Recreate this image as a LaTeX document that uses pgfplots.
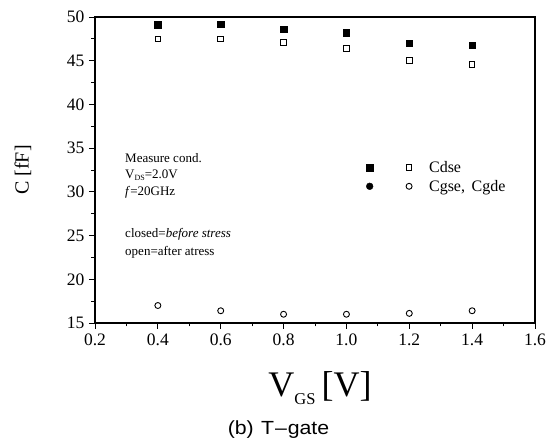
\documentclass[border=0pt]{standalone}
\usepackage{pgfplots}
\pgfplotsset{compat=1.18}
\usepackage{graphicx}
\usepackage{fontspec}
\setmainfont{Liberation Serif}
\newfontfamily\capfont{Liberation Sans}
\usetikzlibrary{calc}
\begin{document}
\begin{tikzpicture}
\begin{axis}[
  name=ax,
  scale only axis,
  width=440pt, height=306pt,
  xmin=0.2, xmax=1.6, ymin=15, ymax=50,
  xtick={0.2,0.4,0.6,0.8,1.0,1.2,1.4,1.6},
  xticklabels={0.2,0.4,0.6,0.8,1.0,1.2,1.4,1.6},
  ytick={15,20,25,30,35,40,45,50},
  minor x tick num=1, minor y tick num=1,
  xtick pos=bottom, ytick pos=left,
  tick align=outside,
  major tick length=6pt, minor tick length=3.5pt,
  axis line style={line width=1.1pt},
  every tick/.style={line width=0.9pt, black},
  /pgf/number format/assume math mode=true,
  tick label style={font=\fontsize{17.5}{17.5}\selectfont},
  xticklabel style={yshift=-1pt},
  yticklabel style={xshift=-1pt},
  legend columns=2,
  legend cell align=left,
  legend style={draw=none, fill=none, at={(axis cs:1.053,31.7)}, anchor=west,
    font=\fontsize{16}{18}\selectfont, row sep=2pt,
    /tikz/every odd column/.append style={column sep=15pt},
    /tikz/every even column/.append style={column sep=14pt}},
  legend image code/.code={\draw[#1] plot coordinates {(0pt,0pt)};},
  legend entries={{\hspace{0pt}},Cdse,{\hspace{0pt}},{Cgse,\, Cgde}},
]
\addplot[only marks, mark=square*, mark size=3.2pt, black] coordinates {
(0.4,49.1) (0.6,49.2) (0.8,48.6) (1.0,48.2) (1.2,47.0) (1.4,46.8)};
\addplot[only marks, mark=square, mark size=2.8pt, line width=0.9pt, black] coordinates {
(0.4,47.5) (0.6,47.5) (0.8,47.1) (1.0,46.4) (1.2,45.0) (1.4,44.6)};
\addlegendimage{only marks, mark=*, mark size=3.4pt, black}
\addplot[only marks, mark=o, mark size=3pt, line width=0.9pt, black] coordinates {
(0.4,17.0) (0.6,16.4) (0.8,16.0) (1.0,16.0) (1.2,16.1) (1.4,16.4)};

\node[anchor=west, font=\fontsize{13}{15}\selectfont] at (axis cs:0.285,33.9) {Measure cond.};
\node[anchor=west, font=\fontsize{13}{15}\selectfont] at (axis cs:0.285,31.95) {V\raisebox{-0.35ex}{\fontsize{8}{8}\selectfont DS}=2.0V};
\node[anchor=west, font=\fontsize{13}{15}\selectfont] at (axis cs:0.285,30.0) {\textit{f}=20GHz};
\node[anchor=west, font=\fontsize{13}{15}\selectfont] at (axis cs:0.285,25.1) {closed=\textit{before stress}};
\node[anchor=west, font=\fontsize{13}{15}\selectfont] at (axis cs:0.285,23.1) {open=after atress};
\end{axis}
\node[rotate=90, font=\fontsize{20}{20}\selectfont] at ($(ax.west)+(-72pt,0)$) {C [fF]};
\node[anchor=base, font=\fontsize{36}{36}\selectfont] at ($(ax.south)+(5pt,-74pt)$)
  {V\raisebox{-8pt}{\fontsize{16.5}{16.5}\selectfont GS}\,[V]};
\node[anchor=base, font=\capfont\fontsize{19}{19}\selectfont] at ($(ax.south west)+(183.5pt,-112pt)$)
  {\scalebox{1.12}[1]{(b)\hspace{0.35em}T\kern0.04em–\kern0.04em gate}};
\pgfresetboundingbox
\path[use as bounding box] ($(ax.south west)+(-95pt,-121pt)$) rectangle ($(ax.north east)+(12pt,17pt)$);
\end{tikzpicture}
\end{document}
